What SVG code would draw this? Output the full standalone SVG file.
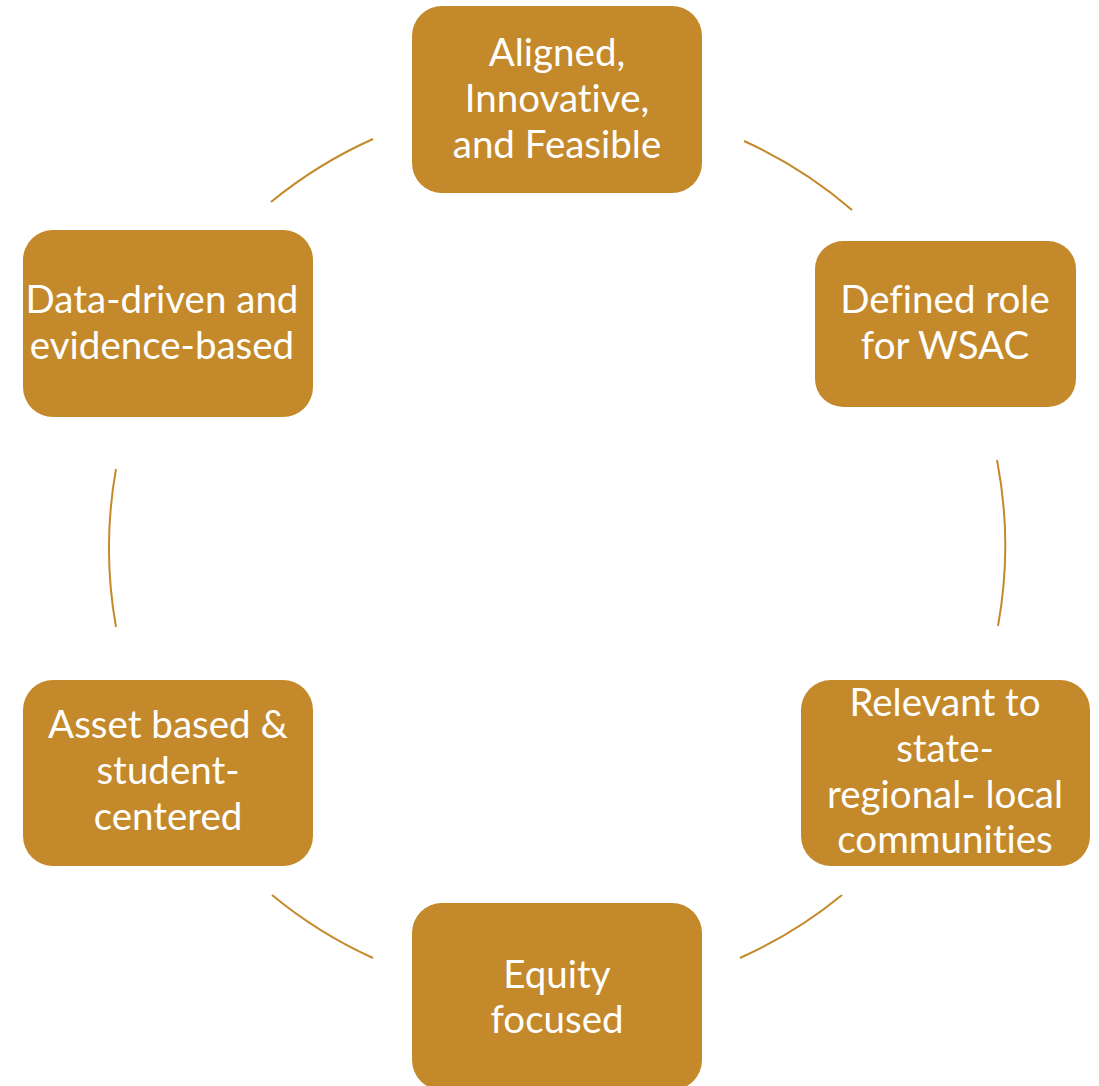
<svg xmlns="http://www.w3.org/2000/svg" width="1099" height="1086" viewBox="0 0 1099 1086">
<style>
.box{fill:#C4892A;}
.lbl{fill:#FFFFFF;font-family:Lato,"Open Sans",sans-serif;font-size:38.5px;text-anchor:middle;font-variant-ligatures:none;}
.arc{fill:none;stroke:#C4892A;stroke-width:2;}
</style>
<rect width="1099" height="1086" fill="#FFFFFF"/>
<g id="connectors">
<path class="arc" d="M271,202 A449,449 0 0 1 373,139"/>
<path class="arc" d="M744,141 A449,449 0 0 1 852,210"/>
<path class="arc" d="M997,460 A449,449 0 0 1 998,626"/>
<path class="arc" d="M842,895 A449,449 0 0 1 740,958"/>
<path class="arc" d="M373,958 A449,449 0 0 1 272,895"/>
<path class="arc" d="M116,627 A449,449 0 0 1 116,469"/>
</g>
<g id="node-aligned">
<rect class="box" x="412" y="6" width="290" height="187" rx="30"/>
<text class="lbl"><tspan x="557" y="66">Aligned,</tspan><tspan x="557" y="112">Innovative,</tspan><tspan x="557" y="158">and Feasible</tspan></text>
</g>
<g id="node-defined">
<rect class="box" x="815" y="241" width="261" height="166" rx="28"/>
<text class="lbl"><tspan x="945" y="313">Defined role</tspan><tspan x="945" y="359">for WSAC</tspan></text>
</g>
<g id="node-relevant">
<rect class="box" x="801" y="680" width="289" height="186" rx="30"/>
<text class="lbl"><tspan x="945" y="716">Relevant to</tspan><tspan x="945" y="762">state-</tspan><tspan x="945" y="808">regional- local</tspan><tspan x="945" y="853">communities</tspan></text>
</g>
<g id="node-equity">
<rect class="box" x="412" y="903" width="290" height="187" rx="30"/>
<text class="lbl"><tspan x="557" y="988">Equity</tspan><tspan x="557" y="1033">focused</tspan></text>
</g>
<g id="node-asset">
<rect class="box" x="23" y="680" width="290" height="186" rx="30"/>
<text class="lbl"><tspan x="168" y="738">Asset based &amp;</tspan><tspan x="168" y="784">student-</tspan><tspan x="168" y="830">centered</tspan></text>
</g>
<g id="node-data">
<rect class="box" x="23" y="230" width="290" height="187" rx="30"/>
<text class="lbl"><tspan x="162" y="313">Data-driven and</tspan><tspan x="162" y="359">evidence-based</tspan></text>
</g>
</svg>
